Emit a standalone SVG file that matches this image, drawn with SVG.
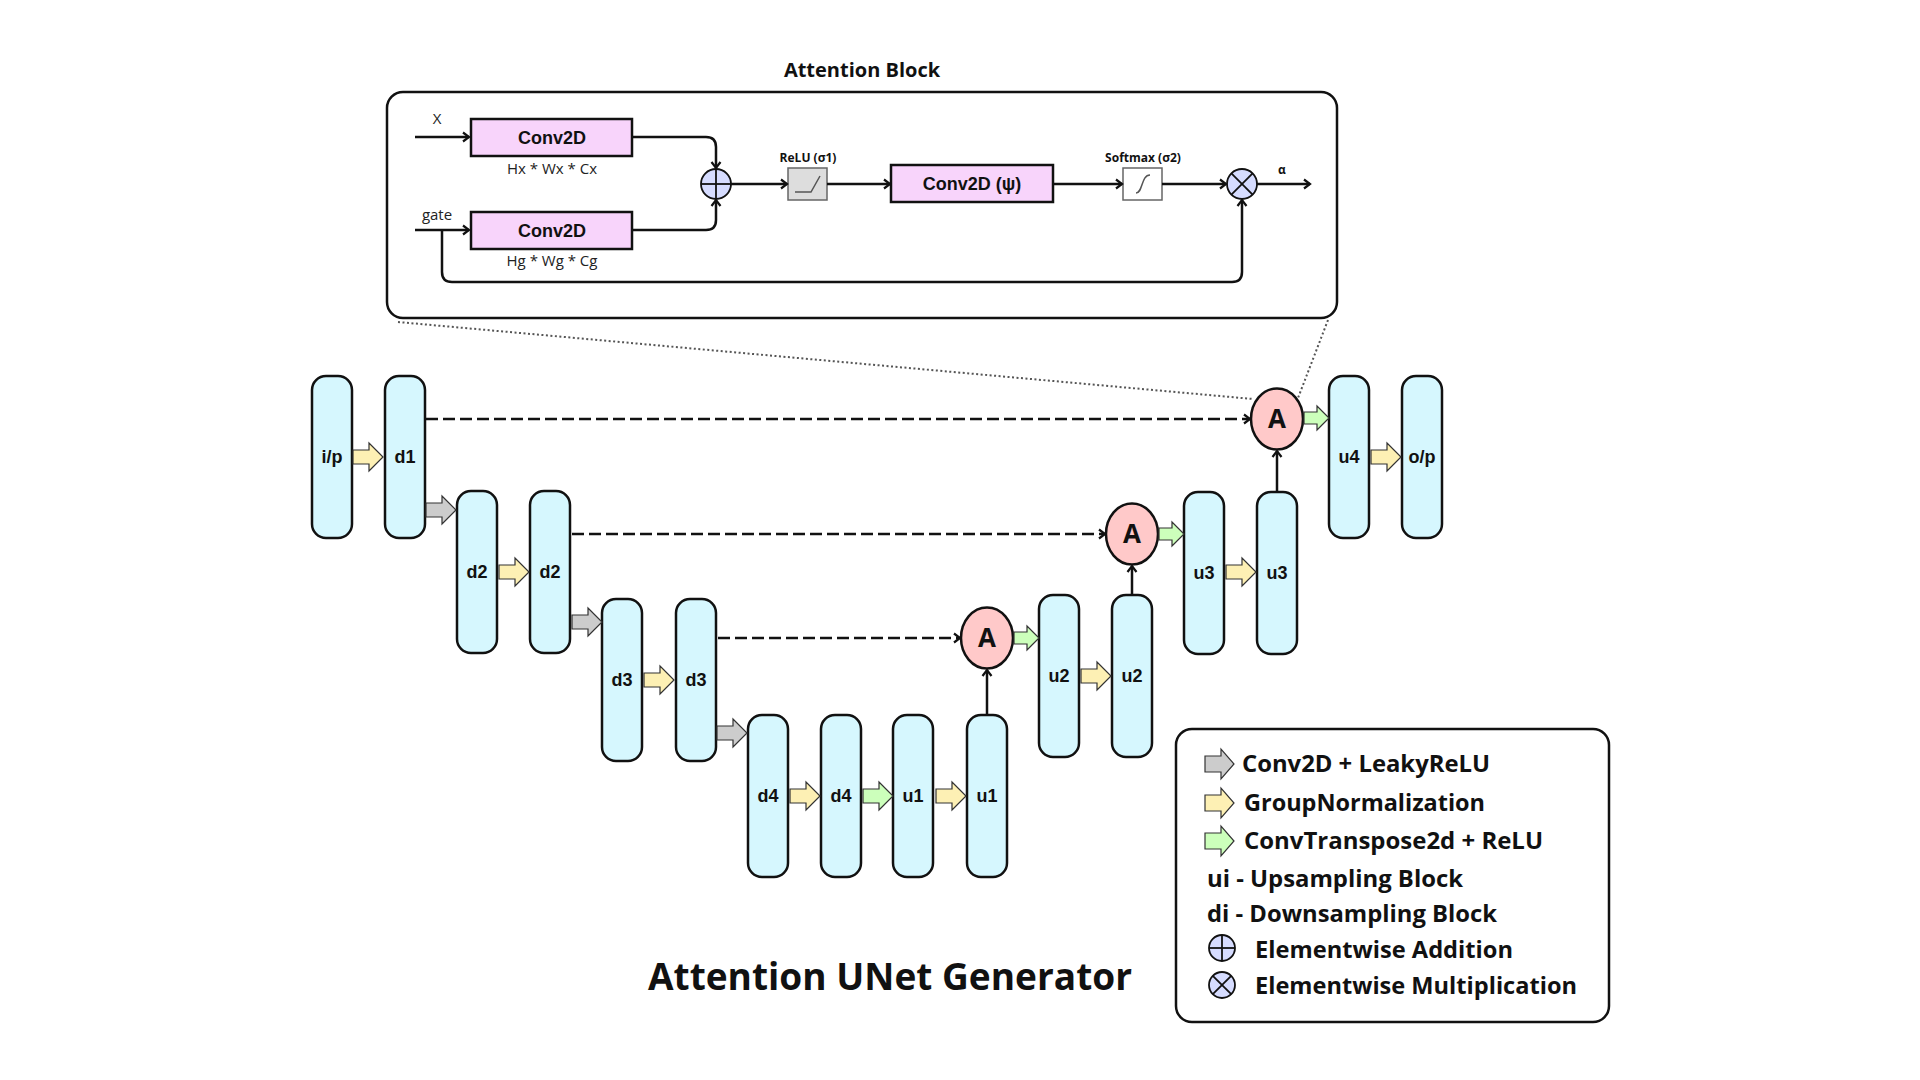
<svg xmlns="http://www.w3.org/2000/svg" xmlns:xlink="http://www.w3.org/1999/xlink" width="1920" height="1080" viewBox="0 0 1920 1080">
<style>
.bg{fill:#ffffff}
.frame{fill:none;stroke:#111;stroke-width:2.5}
.pill{fill:#d6f7fe;stroke:#111;stroke-width:2.5}
.plab{font-family:"Liberation Sans",Arial,sans-serif;font-weight:700;font-size:18px;fill:#111;text-anchor:middle}
.att{fill:#ffc9c9;stroke:#111;stroke-width:2.5}
.alab{font-family:"Open Sans","Liberation Sans",sans-serif;font-weight:700;font-size:26px;fill:#111;text-anchor:middle}
.gy{fill:#cccccc;stroke:#333;stroke-width:1.2}
.yl{fill:#fdf0b4;stroke:#333;stroke-width:1.2}
.gr{fill:#ccffbb;stroke:#333;stroke-width:1.2}
.dash{fill:none;stroke:#111;stroke-width:2.5;stroke-dasharray:12 5}
.line{fill:none;stroke:#111;stroke-width:2.5}
.dot{fill:none;stroke:#555;stroke-width:2;stroke-dasharray:2 2.5}
.conv{fill:#f8d4fb;stroke:#111;stroke-width:2.5}
.clab{font-family:"Liberation Sans",Arial,sans-serif;font-weight:700;font-size:18px;fill:#111;text-anchor:middle}
.dim{font-family:"Open Sans","Liberation Sans",sans-serif;font-size:15px;fill:#222;text-anchor:middle}
.small{font-family:"Open Sans","Liberation Sans",sans-serif;font-size:15px;fill:#222;text-anchor:middle}
.tiny{font-family:"Open Sans","Liberation Sans",sans-serif;font-weight:700;font-size:12px;fill:#111;text-anchor:middle}
.op{fill:#d6dcff;stroke:#111;stroke-width:1.8}
.opl{stroke:#111;stroke-width:1.8}
.act{stroke:#555;stroke-width:1.5}
.heading{font-family:"Open Sans","Liberation Sans",sans-serif;font-weight:700;fill:#111}
.leg{font-family:"Open Sans","Liberation Sans",sans-serif;font-weight:700;font-size:24px;fill:#111}
</style>
<defs>
<marker id="ah" markerUnits="userSpaceOnUse" markerWidth="12" markerHeight="12" viewBox="0 0 12 12" refX="10" refY="6" orient="auto">
<path d="M4,1.5 L10,6 L4,10.5" fill="none" stroke="#111" stroke-width="2.2"/>
</marker>
<path id="blk" d="M0,-7 H16 V-14 L30,0 L16,14 V7 H0 Z"/>
<path id="blks" d="M0,-6 H13 V-12 L25,0 L13,12 V6 H0 Z"/>
</defs>
<rect class="bg" x="0" y="0" width="1920" height="1080"/>

<g id="attention-block">
<text class="heading" x="862" y="77" font-size="20" text-anchor="middle">Attention Block</text>
<rect class="frame" x="387" y="92" width="950" height="226" rx="16"/>
<text class="small" x="437" y="124">X</text>
<text class="small" x="437" y="220">gate</text>
<g id="conv-x"><rect class="conv" x="471" y="119" width="161" height="37"/><text class="clab" x="552" y="144">Conv2D</text></g>
<text class="dim" x="552" y="174">Hx * Wx * Cx</text>
<g id="conv-g"><rect class="conv" x="471" y="212" width="161" height="37"/><text class="clab" x="552" y="237">Conv2D</text></g>
<text class="dim" x="552" y="266">Hg * Wg * Cg</text>
<g id="add"><circle class="op" cx="716" cy="184" r="15"/><line class="opl" x1="701" y1="184" x2="731" y2="184"/><line class="opl" x1="716" y1="169" x2="716" y2="199"/></g>
<g id="relu"><text class="tiny" x="808" y="162" font-size="11.5">ReLU (σ1)</text><rect x="788" y="168" width="39" height="32" fill="#dddddd" stroke="#666" stroke-width="1.5"/><path class="act" d="M795,192 H811 L820,176" fill="none"/></g>
<g id="conv-psi"><rect class="conv" x="891" y="165" width="162" height="37"/><text class="clab" x="972" y="190">Conv2D (ψ)</text></g>
<g id="softmax"><text class="tiny" x="1143" y="162" font-size="11.5">Softmax (σ2)</text><rect x="1123" y="168" width="39" height="32" fill="#ffffff" stroke="#666" stroke-width="1.5"/><path class="act" d="M1136,193 C1143,193 1141,175 1150,175" fill="none"/></g>
<g id="mul"><circle class="op" cx="1242" cy="184" r="15"/><line class="opl" x1="1231.4" y1="173.4" x2="1252.6" y2="194.6"/><line class="opl" x1="1252.6" y1="173.4" x2="1231.4" y2="194.6"/></g>
<text class="tiny" x="1282" y="174" font-size="13">α</text>
</g>

<g id="attention-connectors">
<path class="line" d="M415,137 H469" marker-end="url(#ah)"/>
<path class="line" d="M415,230 H469" marker-end="url(#ah)"/>
<path class="line" d="M632,137 H706 Q716,137 716,147 V168" marker-end="url(#ah)"/>
<path class="line" d="M632,230 H706 Q716,230 716,220 V200" marker-end="url(#ah)"/>
<path class="line" d="M442,230 V272 Q442,282 452,282 H1232 Q1242,282 1242,272 V200" marker-end="url(#ah)"/>
<path class="line" d="M731,184 H787" marker-end="url(#ah)"/>
<path class="line" d="M827,184 H890" marker-end="url(#ah)"/>
<path class="line" d="M1053,184 H1122" marker-end="url(#ah)"/>
<path class="line" d="M1162,184 H1226" marker-end="url(#ah)"/>
<path class="line" d="M1257,184 H1310" marker-end="url(#ah)"/>
<path class="dot" d="M398,322 L1253,399"/>
<path class="dot" d="M1328,320 L1298,398"/>
</g>

<g id="nodes">
<g id="ip"><rect class="pill" x="312" y="376" width="40" height="162" rx="14"/><text class="plab" x="332" y="463">i/p</text></g>
<g id="d1"><rect class="pill" x="385" y="376" width="40" height="162" rx="14"/><text class="plab" x="405" y="463">d1</text></g>
<g id="d2a"><rect class="pill" x="457" y="491" width="40" height="162" rx="14"/><text class="plab" x="477" y="578">d2</text></g>
<g id="d2b"><rect class="pill" x="530" y="491" width="40" height="162" rx="14"/><text class="plab" x="550" y="578">d2</text></g>
<g id="d3a"><rect class="pill" x="602" y="599" width="40" height="162" rx="14"/><text class="plab" x="622" y="686">d3</text></g>
<g id="d3b"><rect class="pill" x="676" y="599" width="40" height="162" rx="14"/><text class="plab" x="696" y="686">d3</text></g>
<g id="d4a"><rect class="pill" x="748" y="715" width="40" height="162" rx="14"/><text class="plab" x="768" y="802">d4</text></g>
<g id="d4b"><rect class="pill" x="821" y="715" width="40" height="162" rx="14"/><text class="plab" x="841" y="802">d4</text></g>
<g id="u1a"><rect class="pill" x="893" y="715" width="40" height="162" rx="14"/><text class="plab" x="913" y="802">u1</text></g>
<g id="u1b"><rect class="pill" x="967" y="715" width="40" height="162" rx="14"/><text class="plab" x="987" y="802">u1</text></g>
<g id="u2a"><rect class="pill" x="1039" y="595" width="40" height="162" rx="14"/><text class="plab" x="1059" y="682">u2</text></g>
<g id="u2b"><rect class="pill" x="1112" y="595" width="40" height="162" rx="14"/><text class="plab" x="1132" y="682">u2</text></g>
<g id="u3a"><rect class="pill" x="1184" y="492" width="40" height="162" rx="14"/><text class="plab" x="1204" y="579">u3</text></g>
<g id="u3b"><rect class="pill" x="1257" y="492" width="40" height="162" rx="14"/><text class="plab" x="1277" y="579">u3</text></g>
<g id="u4"><rect class="pill" x="1329" y="376" width="40" height="162" rx="14"/><text class="plab" x="1349" y="463">u4</text></g>
<g id="op"><rect class="pill" x="1402" y="376" width="40" height="162" rx="14"/><text class="plab" x="1422" y="463">o/p</text></g>
<g id="A1"><ellipse class="att" cx="1277" cy="419" rx="26" ry="30.5"/><text class="alab" x="1277" y="428">A</text></g>
<g id="A2"><ellipse class="att" cx="1132" cy="534" rx="26" ry="30.5"/><text class="alab" x="1132" y="543">A</text></g>
<g id="A3"><ellipse class="att" cx="987" cy="638" rx="26" ry="30.5"/><text class="alab" x="987" y="647">A</text></g>
</g>

<g id="connectors">
<path class="dash" d="M426,419 H1250" marker-end="url(#ah)"/>
<path class="dash" d="M572,534 H1105" marker-end="url(#ah)"/>
<path class="dash" d="M718,638 H960" marker-end="url(#ah)"/>
<path class="line" d="M987,715 V670" marker-end="url(#ah)"/>
<path class="line" d="M1132,595 V566" marker-end="url(#ah)"/>
<path class="line" d="M1277,492 V451" marker-end="url(#ah)"/>
<use href="#blk" xlink:href="#blk" class="yl" x="353" y="457"/>
<use href="#blk" xlink:href="#blk" class="gy" x="426" y="510"/>
<use href="#blk" xlink:href="#blk" class="yl" x="499" y="572"/>
<use href="#blk" xlink:href="#blk" class="gy" x="572" y="622"/>
<use href="#blk" xlink:href="#blk" class="yl" x="644" y="680"/>
<use href="#blk" xlink:href="#blk" class="gy" x="717" y="733"/>
<use href="#blk" xlink:href="#blk" class="yl" x="790" y="796"/>
<use href="#blk" xlink:href="#blk" class="gr" x="863" y="796"/>
<use href="#blk" xlink:href="#blk" class="yl" x="936" y="796"/>
<use href="#blks" xlink:href="#blks" class="gr" x="1014" y="638"/>
<use href="#blk" xlink:href="#blk" class="yl" x="1081" y="676"/>
<use href="#blks" xlink:href="#blks" class="gr" x="1159" y="534"/>
<use href="#blk" xlink:href="#blk" class="yl" x="1226" y="572"/>
<use href="#blks" xlink:href="#blks" class="gr" x="1304" y="418"/>
<use href="#blk" xlink:href="#blk" class="yl" x="1371" y="457"/>
</g>

<g id="title">
<text class="heading" x="648" y="990" font-size="38" textLength="484" lengthAdjust="spacingAndGlyphs">Attention UNet Generator</text>
</g>

<g id="legend">
<rect class="frame" x="1176" y="729" width="433" height="293" rx="16"/>
<path class="gy" d="M1205,756 H1221 V749 L1234,764 L1221,779 V772 H1205 Z"/>
<text class="leg" x="1242" y="772" textLength="248" lengthAdjust="spacingAndGlyphs">Conv2D + LeakyReLU</text>
<path class="yl" d="M1205,795 H1221 V788 L1234,803 L1221,818 V811 H1205 Z"/>
<text class="leg" x="1244" y="811" textLength="241" lengthAdjust="spacingAndGlyphs">GroupNormalization</text>
<path class="gr" d="M1205,833 H1221 V826 L1234,841 L1221,856 V849 H1205 Z"/>
<text class="leg" x="1244" y="849" textLength="299" lengthAdjust="spacingAndGlyphs">ConvTranspose2d + ReLU</text>
<text class="leg" x="1207" y="887" textLength="256" lengthAdjust="spacingAndGlyphs">ui - Upsampling Block</text>
<text class="leg" x="1207" y="922" textLength="290" lengthAdjust="spacingAndGlyphs">di - Downsampling Block</text>
<circle class="op" cx="1222" cy="948" r="13"/><line class="opl" x1="1209" y1="948" x2="1235" y2="948"/><line class="opl" x1="1222" y1="935" x2="1222" y2="961"/>
<text class="leg" x="1255" y="958" textLength="258" lengthAdjust="spacingAndGlyphs">Elementwise Addition</text>
<circle class="op" cx="1222" cy="985" r="13"/><line class="opl" x1="1212.8" y1="975.8" x2="1231.2" y2="994.2"/><line class="opl" x1="1231.2" y1="975.8" x2="1212.8" y2="994.2"/>
<text class="leg" x="1255" y="994" textLength="322" lengthAdjust="spacingAndGlyphs">Elementwise Multiplication</text>
</g>
</svg>
